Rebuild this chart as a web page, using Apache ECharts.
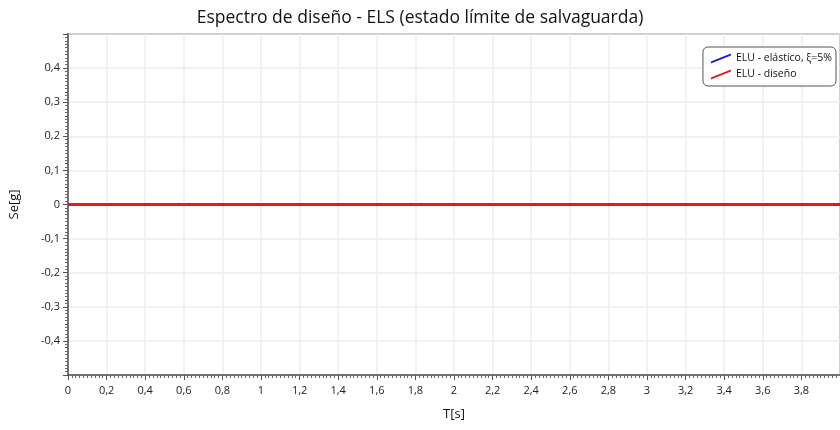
<!DOCTYPE html>
<html>
<head>
<meta charset="utf-8">
<script src="https://cdn.jsdelivr.net/npm/echarts@6/dist/echarts.min.js"></script>
<style>html,body{margin:0;padding:0;background:#fff;}#c{width:840px;height:430px;}</style>
</head>
<body>
<div id="c"></div>
<script>
var titleText = 'Espectro de diseño - ELS (estado límite de salvaguarda)';
var seriesNames = ['ELU - elástico, ξ=5%', 'ELU - diseño'];
var periods = [0, 0.5, 1, 1.5, 2, 2.5, 3, 3.5, 4];
var seElastic = [0, 0, 0, 0, 0, 0, 0, 0, 0];
var seDesign = [0, 0, 0, 0, 0, 0, 0, 0, 0];

var FONT = '"Open Sans", "Noto Sans", sans-serif';
function fmt(v) { return String(+(+v).toFixed(1)).replace('.', ','); }
function pairs(xs, ys) { return xs.map(function (x, i) { return [x, ys[i]]; }); }

var chart = echarts.init(document.getElementById('c'), null, { renderer: 'canvas' });
chart.setOption({
  backgroundColor: '#ffffff',
  animation: false,
  textStyle: { fontFamily: FONT },
  title: {
    text: titleText, left: 'center', top: 4,
    textStyle: { fontFamily: FONT, fontSize: 17.5, fontWeight: 'normal', color: '#111' }
  },
  legend: {
    orient: 'vertical', right: 4, top: 47,
    backgroundColor: '#fff', borderColor: '#555', borderWidth: 1, borderRadius: 5,
    padding: [6, 4, 6, 8], itemGap: 5, itemWidth: 20, itemHeight: 10,
    textStyle: { fontFamily: FONT, fontSize: 10.5, color: '#111' },
    data: [
      { name: seriesNames[0], icon: 'path://M0,9 L20,1 L20,3 L0,11 Z', itemStyle: { color: '#1a1ae0' } },
      { name: seriesNames[1], icon: 'path://M0,9 L20,1 L20,3 L0,11 Z', itemStyle: { color: '#e8161a' } }
    ]
  },
  grid: {
    left: 67, right: -4, top: 34, bottom: 55,
    show: true, borderColor: '#7a7a7a', borderWidth: 2, backgroundColor: '#fff'
  },
  xAxis: {
    type: 'value', min: 0, max: 4, interval: 0.2,
    name: 'T[s]', nameLocation: 'middle', nameGap: 33,
    nameTextStyle: { fontFamily: FONT, fontSize: 13, color: '#111' },
    axisLine: { onZero: false, lineStyle: { color: '#555', width: 1.5 } },
    axisTick: { length: 5, lineStyle: { color: '#555' } },
    minorTick: { show: true, splitNumber: 10, length: 3, lineStyle: { color: '#666' } },
    splitLine: { show: true, lineStyle: { color: '#ececec', width: 1.5 } },
    axisLabel: { formatter: fmt, fontFamily: FONT, fontSize: 11, color: '#222', margin: 10, showMaxLabel: false }
  },
  yAxis: {
    type: 'value', min: -0.5, max: 0.5, interval: 0.1,
    name: 'Se[g]', nameLocation: 'middle', nameGap: 47,
    nameTextStyle: { fontFamily: FONT, fontSize: 13, color: '#111' },
    axisLine: { show: true, onZero: false, lineStyle: { color: '#555', width: 1.5 } },
    axisTick: { show: true, length: 5, lineStyle: { color: '#555' } },
    minorTick: { show: true, splitNumber: 10, length: 3, lineStyle: { color: '#666' } },
    splitLine: { show: true, lineStyle: { color: '#ececec', width: 1.5 } },
    axisLabel: { formatter: fmt, fontFamily: FONT, fontSize: 11, color: '#222', margin: 8, showMinLabel: false, showMaxLabel: false }
  },
  series: [
    { name: seriesNames[0], type: 'line', data: pairs(periods, seElastic), showSymbol: false,
      lineStyle: { color: '#1a1ae0', width: 2.5 }, itemStyle: { color: '#1a1ae0' } },
    { name: seriesNames[1], type: 'line', data: pairs(periods, seDesign), showSymbol: false,
      lineStyle: { color: '#e8161a', width: 2.5 }, itemStyle: { color: '#e8161a' } }
  ]
});
</script>
</body>
</html>
